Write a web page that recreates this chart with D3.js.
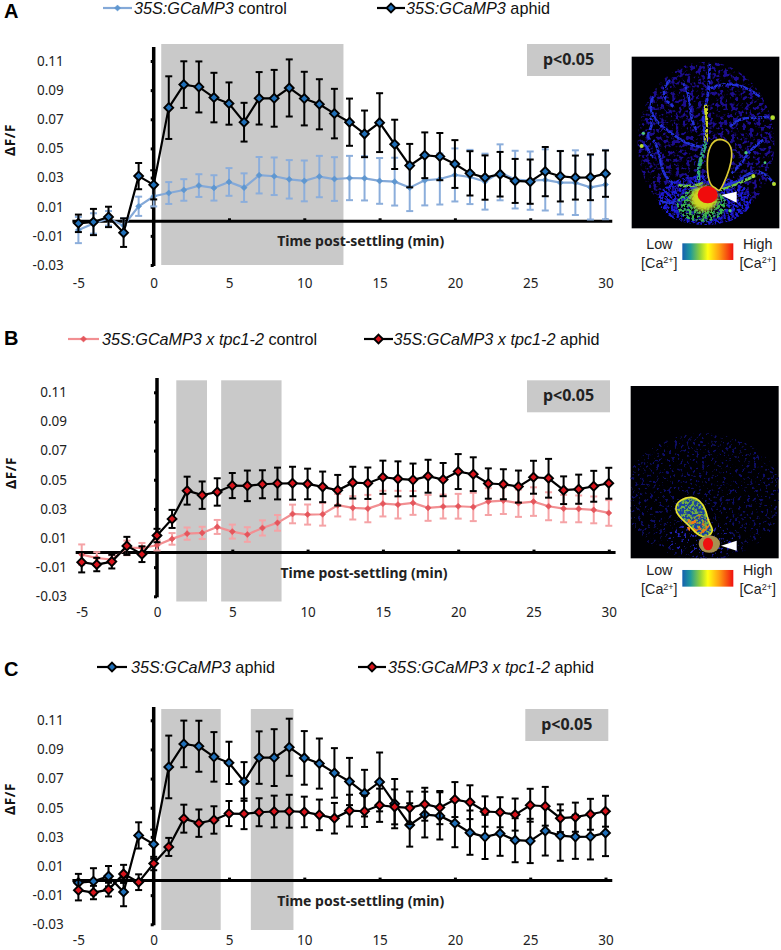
<!DOCTYPE html>
<html><head><meta charset="utf-8">
<style>html,body{margin:0;padding:0;background:#fff}svg{display:block}</style>
<script src="https://cdnjs.cloudflare.com/ajax/libs/d3/7.8.5/d3.min.js"></script>
</head><body><svg id="fig" width="781" height="950"></svg>
<script>
const minutes = d3.range(-5, 31);
const yTickValues = [-0.03,-0.01,0.01,0.03,0.05,0.07,0.09,0.11];
const xTickValues = [-5,0,5,10,15,20,25,30];
const controlA = [-.006,-.0015,.002,-.003,.0103,.0172,.0194,.0215,.0245,.0229,.027,.0231,.0316,.0309,.0288,.0277,.0307,.029,.0297,.0295,.0277,.0272,.0231,.0281,.029,.0318,.0304,.0272,.0336,.0286,.0279,.0284,.0265,.0265,.0233,.0252];
const controlAErr = [.009,.007,.005,.005,.0066,.007,.0075,.0074,.0078,.0087,.0095,.0098,.0125,.0129,.0132,.014,.0142,.015,.0152,.0152,.0157,.0164,.0161,.0172,.0175,.0182,.0186,.0192,.0192,.0198,.02,.021,.0218,.0222,.0221,.0238];
const aphidA = [-.0014,-.0005,.003,-.0078,.031,.025,.078,.0938,.0922,.0849,.0808,.068,.0844,.0844,.0915,.0842,.0803,.0739,.068,.06,.0677,.0528,.0382,.0453,.0444,.0393,.0329,.03,.0323,.0277,.0272,.0341,.0309,.03,.0302,.0327];
const aphidAErr = [.006,.009,.007,.0098,.009,.01,.0215,.016,.0175,.017,.0145,.0133,.018,.0195,.0196,.0184,.0172,.017,.0162,.016,.0202,.0169,.0149,.0157,.0162,.0164,.0152,.0152,.0153,.0151,.0152,.0169,.0173,.0151,.0157,.0159];
const controlB = [-.0014,-.0037,-.0048,.0032,.0032,.005,.0094,.013,.0135,.0176,.0144,.0124,.0169,.0204,.0265,.0261,.0263,.0325,.0307,.0302,.0336,.0329,.0341,.0307,.0316,.0318,.0313,.035,.0357,.0339,.035,.0318,.0302,.03,.0293,.0272];
const controlBErr = [.007,.004,.003,.005,.0034,.0035,.004,.0042,.0042,.0048,.0048,.005,.0052,.0054,.0064,.0069,.0078,.0077,.008,.0094,.0088,.0095,.0082,.0089,.0082,.0085,.0097,.0092,.0092,.0094,.0098,.0096,.0094,.0092,.0092,.0088];
const aphidB = [-.0066,-.0082,-.0062,.0046,-.0011,.0117,.0231,.0425,.0394,.0416,.046,.0458,.0469,.0474,.0476,.0471,.0451,.0428,.048,.0476,.0517,.0506,.0499,.0524,.0501,.0556,.0538,.0474,.0469,.0453,.0517,.051,.0428,.0435,.0455,.0476];
const aphidBErr = [.007,.0046,.0047,.0062,.0054,.0046,.0062,.0096,.0094,.0094,.0086,.0105,.0096,.0109,.0113,.0105,.0105,.0105,.0109,.0108,.0114,.012,.0112,.0113,.0114,.012,.0116,.0104,.0103,.011,.0113,.0133,.0095,.01,.0106,.0106];
const bandsA = [[0.5,12.6]];
const bandsB = [[1.28,3.32],[4.26,8.27]];
const bandsC = [[0.5,4.45],[6.45,9.28]];
const legendA = ["35S:GCaMP3"," control","35S:GCaMP3"," aphid"];
const legendB = ["35S:GCaMP3 x tpc1-2"," control","35S:GCaMP3 x tpc1-2"," aphid"];
const legendC = ["35S:GCaMP3"," aphid","35S:GCaMP3 x tpc1-2"," aphid"];

const svg = d3.select("#fig");
const defs = svg.append("defs");
const grad = defs.append("linearGradient").attr("id","caScale");
[[0,"#1560b0"],[.16,"#1f9a9a"],[.34,"#8fcf3a"],[.5,"#ffff10"],[.72,"#ffa010"],[1,"#f01010"]].forEach(s=>grad.append("stop").attr("offset",s[0]).attr("stop-color",s[1]));
function speckle(id,freq,seed,slope,cut){
  const f=defs.append("filter").attr("id",id).attr("x","-10%").attr("y","-10%").attr("width","120%").attr("height","120%");
  f.append("feTurbulence").attr("type","fractalNoise").attr("baseFrequency",freq).attr("numOctaves",2).attr("seed",seed).attr("result","n");
  f.append("feColorMatrix").attr("in","n").attr("type","matrix").attr("values",`0 0 0 0 0 0 0 0 0 0 0 0 0 0 0 ${slope} 0 0 0 ${cut}`).attr("result","m");
  f.append("feComposite").attr("in","SourceGraphic").attr("in2","m").attr("operator","in");
}
speckle("spA",0.09,4,7,-3.5);
speckle("spB",0.11,9,9,-5.3);
speckle("spC",0.13,3,7,-3.1);
speckle("spD",0.13,6,7,-2.4);
const soft=defs.append("filter").attr("id","soft").attr("x","-30%").attr("y","-30%").attr("width","160%").attr("height","160%");
soft.append("feGaussianBlur").attr("stdDeviation",6);

const FONT_NUM='"Noto Sans",sans-serif', FONT_LEG='"Liberation Sans",sans-serif';
const BLUE="#1f6fb8", RED="#d8141c", LBLUE="#84a9d8", LBLUEM="#5f97d0", PINK="#f28f92", PINKM="#e4565c";
const fmtTick=d3.format(".2f");
const tickText=d=>fmtTick(d).replace("\u2212","-");

function panel(o){
  const x=d3.scaleLinear().domain([0,30]).range([o.x0,o.x0+451.8]);
  const y=d3.scaleLinear().domain([-0.03,0.11]).range([o.yBottom,o.yBottom-204]);
  const g=svg.append("g");
  g.selectAll(".band").data(o.bands).join("rect").attr("x",d=>x(d[0])).attr("width",d=>x(d[1])-x(d[0]))
    .attr("y",o.bandTop).attr("height",o.bandBottom-o.bandTop).attr("fill","#c9c9c9");
  g.append("rect").attr("x",o.px).attr("y",o.bandTop).attr("width",83).attr("height",32).attr("fill","#c9c9c9");
  g.append("text").attr("x",o.px+41.5).attr("y",o.bandTop+21).attr("text-anchor","middle").attr("font-family",FONT_NUM).attr("font-weight",700).attr("font-size",16).attr("fill","#222").text("p<0.05");

  const ya=d3.axisLeft(y).tickValues(yTickValues).tickSize(3).tickPadding(87).tickFormat(tickText);
  const yg=g.append("g").attr("transform",`translate(${o.x0},0)`).call(ya);
  yg.select(".domain").remove();
  yg.selectAll("line").attr("stroke","#000").attr("stroke-width",3);
  yg.selectAll("text").attr("font-family",FONT_NUM).attr("font-size",13.5).attr("fill","#222");
  g.append("line").attr("x1",o.x0).attr("x2",o.x0).attr("y1",o.axisTop).attr("y2",o.yBottom+1).attr("stroke","#000").attr("stroke-width",3.5);
  const xa=d3.axisTop(x).tickValues(xTickValues.filter(d=>d>0)).tickSize(3).tickFormat("");
  const xg=g.append("g").attr("transform",`translate(0,${y(0)})`).call(xa);
  xg.select(".domain").remove();
  xg.selectAll("line").attr("stroke","#000").attr("stroke-width",3);
  g.append("line").attr("x1",x(-5.4)).attr("x2",x(30.45)).attr("y1",y(0)).attr("y2",y(0)).attr("stroke","#000").attr("stroke-width",3);
  const xl=d3.axisBottom(x).tickValues(xTickValues).tickSize(0).tickPadding(0).tickFormat(d=>String(d));
  const xlg=g.append("g").attr("transform",`translate(0,${o.yBottom+o.xlabOff})`).call(xl);
  xlg.select(".domain").remove();
  xlg.selectAll("text").attr("font-family",FONT_NUM).attr("font-size",13.5).attr("fill","#222");
  g.append("text").attr("x",x(0)+207).attr("y",y(0)+25).attr("text-anchor","middle").attr("font-family",FONT_NUM).attr("font-weight",700).attr("font-size",14).attr("fill","#222").text("Time post-settling (min)");
  g.append("text").attr("transform",`translate(${o.ylabX},${o.ylabY}) rotate(-90)`).attr("text-anchor","middle").attr("font-family",FONT_NUM).attr("font-weight",700).attr("font-size",13.5).attr("letter-spacing",.6).attr("fill","#111").text("ΔF/F");
  g.append("text").attr("x",4).attr("y",o.letterY).attr("font-family",FONT_LEG).attr("font-weight",700).attr("font-size",20).attr("fill","#000").text(o.letter);

  const line=d3.line().x((d,i)=>x(minutes[i])).y(d=>y(d));
  o.series.forEach(s=>{
    const l=g.append("g");
    const pts=s.v.map((v,i)=>({t:minutes[i],v,e:s.e[i]}));
    const eb=l.append("g").attr("stroke",s.errColor).attr("stroke-width",s.ew).attr("fill","none");
    eb.selectAll(".v").data(pts).join("line").attr("x1",d=>x(d.t)).attr("x2",d=>x(d.t)).attr("y1",d=>y(d.v-d.e)).attr("y2",d=>y(d.v+d.e));
    eb.selectAll(".h").data(pts.flatMap(d=>[{t:d.t,y:d.v-d.e},{t:d.t,y:d.v+d.e}])).join("line").attr("x1",d=>x(d.t)-3.5).attr("x2",d=>x(d.t)+3.5).attr("y1",d=>y(d.y)).attr("y2",d=>y(d.y));
    l.append("path").attr("d",line(s.v)).attr("fill","none").attr("stroke",s.line).attr("stroke-width",s.lw);
    l.selectAll("path.m").data(pts).join("path").attr("class","m").attr("d",d3.symbol().type(d3.symbolDiamond2).size(s.size))
      .attr("transform",d=>`translate(${x(d.t)},${y(d.v)})`).attr("fill",s.fill).attr("stroke",s.stroke).attr("stroke-width",s.sw);
  });
  o.legend.forEach(it=>{
    const s=it.s;
    g.append("line").attr("x1",it.x1).attr("x2",it.x2).attr("y1",o.legY).attr("y2",o.legY).attr("stroke",s.line).attr("stroke-width",s.lw);
    g.append("path").attr("d",d3.symbol().type(d3.symbolDiamond2).size(s.size)).attr("transform",`translate(${(it.x1+it.x2)/2},${o.legY})`).attr("fill",s.fill).attr("stroke",s.stroke).attr("stroke-width",s.sw);
    const t=g.append("text").attr("x",it.tx).attr("y",o.legY+5.5).attr("font-family",FONT_LEG).attr("font-size",16.2).attr("fill","#111");
    t.append("tspan").attr("font-style","italic").text(it.a);
    t.append("tspan").text(it.b);
  });
}
const mk=(v,e,kind)=>{
  const k={aphidBlue:{line:"#000",lw:2.2,fill:BLUE,stroke:"#000",sw:1.9,size:50,errColor:"#000",ew:2},
           aphidRed:{line:"#000",lw:2.2,fill:RED,stroke:"#000",sw:1.9,size:50,errColor:"#000",ew:2},
           ctlBlue:{line:LBLUE,lw:2.2,fill:LBLUEM,stroke:LBLUEM,sw:.5,size:24,errColor:"#8caedb",ew:2},
           ctlRed:{line:PINK,lw:2.2,fill:PINKM,stroke:PINKM,sw:.5,size:24,errColor:"#f5a3a6",ew:2}}[kind];
  return Object.assign({v,e},k);
};
const sCA=mk(controlA,controlAErr,"ctlBlue"), sAA=mk(aphidA,aphidAErr,"aphidBlue"),
      sCB=mk(controlB,controlBErr,"ctlRed"), sAB=mk(aphidB,aphidBErr,"aphidRed");
panel({letter:"A",letterY:18,x0:153.7,yBottom:265,axisTop:47,bandTop:44,bandBottom:265,px:527,bands:bandsA,ylabX:14.5,ylabY:140,legY:8,xlabOff:13,
  series:[sCA,sAA],
  legend:[{s:sCA,x1:103,x2:132,tx:134,a:legendA[0],b:legendA[1]},{s:sAA,x1:377,x2:405,tx:406,a:legendA[2],b:legendA[3]}]});
panel({letter:"B",letterY:345,x0:157,yBottom:596.3,axisTop:378,bandTop:380.3,bandBottom:601.5,px:527,bands:bandsB,ylabX:16,ylabY:473,legY:339,xlabOff:11,
  series:[sCB,sAB],
  legend:[{s:sCB,x1:68,x2:99,tx:102,a:legendB[0],b:legendB[1]},{s:sAB,x1:364,x2:393,tx:393.5,a:legendB[2],b:legendB[3]}]});
panel({letter:"C",letterY:676,x0:153.7,yBottom:924.3,axisTop:707,bandTop:709,bandBottom:930,px:525.3,bands:bandsC,ylabX:14.5,ylabY:799,legY:667,xlabOff:11.5,
  series:[sAA,sAB],
  legend:[{s:sAA,x1:97,x2:127,tx:131,a:legendC[0],b:legendC[1]},{s:sAB,x1:358,x2:386,tx:388,a:legendC[2],b:legendC[3]}]});

function scaleLegend(g,top){
  g.append("rect").attr("x",187).attr("y",top).attr("width",153).attr("height",50).attr("fill","url(#caScale)");
  [[118,"Low"],[413,"High"]].forEach(d=>{
    g.append("text").attr("x",d[0]).attr("y",top+16).attr("text-anchor","middle").attr("font-family",FONT_LEG).attr("font-size",43).attr("fill","#222").text(d[1]);
    const t=g.append("text").attr("x",d[0]).attr("y",top+73).attr("text-anchor","middle").attr("font-family",FONT_LEG).attr("font-size",43).attr("fill","#222");
    t.append("tspan").text("[Ca");
    t.append("tspan").attr("font-size",27).attr("dy",-14).text("2+");
    t.append("tspan").attr("dy",14).text("]");
  });
}
function micro(ox,oy,rx,ry,w,h,id){
  const g=svg.append("g").attr("transform",`translate(${ox},${oy}) scale(${1/3})`);
  const c=defs.append("clipPath").attr("id",id); c.append("rect").attr("x",rx).attr("y",ry).attr("width",w).attr("height",h);
  g.append("rect").attr("x",rx).attr("y",ry).attr("width",w).attr("height",h).attr("fill","#000003");
  return g.append("g").attr("clip-path",`url(#${id})`);
}
const veinsA=["M270 70C265 120 270 160 255 200S262 280 250 320 225 400 245 445","M260 320C220 325 180 300 140 270S80 210 100 170","M100 300C130 340 110 400 160 430","M330 260C370 220 400 240 450 230","M335 400C370 370 380 330 430 300","M60 320C90 300 80 350 100 350","M150 120C120 150 130 180 160 200","M345 430C380 400 420 370 460 430","M180 435C210 440 220 445 245 450","M300 440C330 430 370 420 405 408","M120 480C150 500 180 480 215 470","M260 150C320 120 370 130 420 170","M90 230C110 260 70 280 90 300","M190 130C220 170 200 230 230 270"];
{
  const a=micro(620,40,35,50,443,515,"clipA");
  scaleLegend(svg.append("g").attr("transform","translate(620,40) scale(0.3333)"),610);
  a.append("ellipse").attr("cx",258).attr("cy",310).attr("rx",205).attr("ry",245).attr("fill","#1c0c90").attr("filter","url(#spA)");
  a.append("ellipse").attr("cx",255).attr("cy",480).attr("rx",140).attr("ry",75).attr("fill","#1c1cd8").attr("filter","url(#spC)");
  const v=a.append("g").attr("filter","url(#spD)").attr("fill","none").attr("stroke","#2430d8").attr("stroke-width",8);
  veinsA.forEach(d=>v.append("path").attr("d",d));
  a.append("path").attr("d","M255 195C265 230 265 270 258 305").attr("fill","none").attr("stroke","#cfd820").attr("stroke-width",13).attr("filter","url(#spD)");
  a.append("path").attr("d","M258 305C250 340 232 380 235 420").attr("fill","none").attr("stroke","#30b070").attr("stroke-width",11).attr("filter","url(#spD)");
  a.append("path").attr("d","M250 430C220 440 200 440 175 436M300 450C340 440 375 420 405 408").attr("fill","none").attr("stroke","#70cc40").attr("stroke-width",8).attr("filter","url(#spD)");
  a.append("ellipse").attr("cx",245).attr("cy",495).attr("rx",75).attr("ry",50).attr("fill","#38b848").attr("filter","url(#spC)");
  a.append("ellipse").attr("cx",252).attr("cy",475).attr("rx",40).attr("ry",38).attr("fill","#d0d820").attr("filter","url(#soft)");
  a.append("ellipse").attr("cx",263).attr("cy",464).attr("rx",30).attr("ry",26).attr("fill","#f00c0c");
  a.append("path").attr("d","M300 298C325 300 337 320 335 350S325 400 310 432 295 448 282 442 262 410 262 370 275 298 300 298Z").attr("fill","#000").attr("stroke","#d8c832").attr("stroke-width",5);
  [[458,233,7],[65,318,6],[462,432,6],[378,338,5],[400,408,6],[435,368,4],[70,280,5],[330,512,5]].forEach(d=>a.append("circle").attr("cx",d[0]).attr("cy",d[1]).attr("r",d[2]).attr("fill",d[2]>5?"#b4dc30":"#50c878"));
  a.append("path").attr("d","M303 465L350 455L350 488Z").attr("fill","#fff");
}
{
  const b=micro(620,350,32,108,444,517,"clipB");
  scaleLegend(svg.append("g").attr("transform","translate(620,350) scale(0.3333)"),660);
  b.append("ellipse").attr("cx",250).attr("cy",440).attr("rx",240).attr("ry",190).attr("fill","#101068").attr("filter","url(#spB)");
  b.append("ellipse").attr("cx",240).attr("cy",570).attr("rx",100).attr("ry",50).attr("fill","#2020b0").attr("filter","url(#spB)");
  const shape="M215 442C240 445 255 470 262 500S285 535 272 552 235 558 215 535 170 500 168 478 190 442 215 442Z";
  b.append("path").attr("d",shape).attr("fill","#1840a0");
  b.append("path").attr("d",shape).attr("fill","#70b040").attr("filter","url(#spC)");
  b.append("ellipse").attr("cx",238).attr("cy",525).attr("rx",38).attr("ry",30).attr("fill","#ee7a18").attr("filter","url(#spA)");
  b.append("path").attr("d",shape).attr("fill","none").attr("stroke","#e6e030").attr("stroke-width",5);
  b.append("ellipse").attr("cx",268).attr("cy",582).attr("rx",32).attr("ry",26).attr("fill","#a89050");
  b.append("ellipse").attr("cx",264).attr("cy",582).attr("rx",15).attr("ry",19).attr("fill","#ee1010");
  b.append("path").attr("d","M303 587L350 572L350 602Z").attr("fill","#fff");
}
</script></body></html>
